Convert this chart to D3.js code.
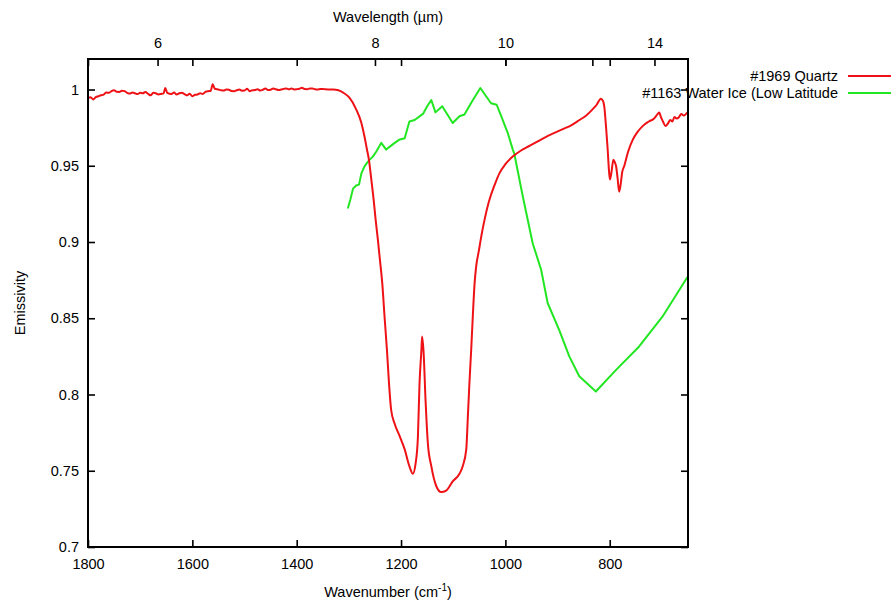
<!DOCTYPE html>
<html>
<head>
<meta charset="utf-8">
<script src="https://cdn.jsdelivr.net/npm/d3@7"></script>
<style>
    body { margin: 0; background: #fff; }
    text { font-family: "Liberation Sans", Arial, sans-serif; }
</style>
</head>
<body>
<div id="my_dataviz"></div>
<script>
//Data (wavenumber cm-1, emissivity)
var quartzWn = [1800, 1795, 1790, 1785, 1780, 1775, 1770, 1765, 1760, 1755, 1750, 1745, 1740, 1735, 1730, 1725, 1720, 1715, 1710, 1705,
    1700, 1695, 1690, 1685, 1680, 1675, 1670, 1665, 1660, 1655, 1652, 1648, 1640, 1635, 1630, 1625, 1620, 1615, 1610, 1605,
    1600, 1595, 1590, 1585, 1580, 1575, 1570, 1565, 1561, 1557, 1550, 1545, 1540, 1535, 1530, 1525, 1520, 1515, 1510, 1505,
    1500, 1495, 1490, 1485, 1480, 1475, 1470, 1465, 1460, 1455, 1450, 1445, 1440, 1435, 1430, 1425, 1420, 1415, 1410, 1405,
    1400, 1395, 1390, 1385, 1380, 1375, 1370, 1365, 1360, 1355, 1350, 1345, 1340, 1330, 1320, 1311, 1299, 1286, 1276, 1270,
    1265.5, 1261.6, 1257, 1252.6, 1248.8, 1244.4, 1241, 1236, 1231.6, 1227, 1223, 1219, 1212.4, 1203, 1193, 1184, 1177.4, 1172,
    1167.7, 1164.6, 1161, 1159.6, 1157, 1153, 1148.6, 1142, 1132.6, 1123, 1113.5, 1101, 1088, 1081.8, 1075, 1072, 1069, 1065.6,
    1062.5, 1059, 1056, 1051, 1045, 1040, 1032, 1020, 1011.5, 1000, 986, 970, 954, 938, 922, 906, 890, 874, 858, 845, 833, 825,
    817, 813, 810.5, 807, 804, 801.5, 799.7, 797, 793, 790, 788, 785, 782, 779, 776, 772, 765, 756, 747, 737, 725, 715, 708,
    705, 702, 698, 693, 688, 684, 680, 676, 672, 667, 663, 658, 651];
var quartzEm = [.9945, .9950, .9935, .9950, .9956, .9962, .9967, .9980, .9978, .9990, .9995, .9985, .9984, .9992, .9989, .9978, .9973, .9980, .9975, .9970,
    .9978, .9975, .9984, .9972, .9962, .9978, .9975, .9968, .9971, .9975, 1.0010, .9978, .9971, .9980, .9967, .9975, .9978, .9970, .9962, .9972,
    .9956, .9965, .9967, .9975, .9971, .9985, .9989, .9990, 1.0035, 1.0005, 1.0, .9995, .9993, 1.0, .9998, .9990, .9989, .9995, 1.0, .9992,
    .9993, 1.0005, .9989, .9995, .9996, 1.0002, .9993, .9998, 1.0007, .9996, .9998, 1.0006, 1.0002, .9997, 1.0, 1.0004, 1.0007, 1.0001, 1.0007, 1.0,
    1.0002, 1.0005, 1.0011, 1.0003, 1.0002, 1.0006, 1.0007, 1.0002, 1.0, 1.0003, 1.0004, 1.0001, 1.0, 1.0, .9995, .9980, .9946, .9870, .9780, .9690,
    .9610, .9540, .9410, .9280, .9150, .9015, .8900, .8730, .8510, .8290, .8070, .7900, .7810, .7730, .7640, .7530, .7480, .7550,
    .7720, .8070, .8290, .8380, .8290, .7960, .7680, .7530, .7400, .7360, .7370, .7430, .7480, .7530, .7640, .7850, .8070, .8290,
    .8510, .8730, .8840, .8940, .9060, .9145, .9260, .9380, .9450, .9510, .9560, .9600, .9630, .9660, .9690, .9715, .9740, .9765, .9800, .9830, .9870, .9900,
    .9940, .9925, .9890, .9750, .9610, .9470, .9410, .9450, .9540, .9520, .9500, .9420, .9330, .9380, .9460, .9500, .9590, .9670, .9720, .9760, .9790, .9810, .9840,
    .9850, .9820, .9790, .9760, .9780, .9800, .9790, .9820, .9810, .9820, .9840, .9830, .9850];

var iceWn = [1302, 1297, 1292, 1286, 1280.6, 1276, 1270, 1265, 1260, 1254, 1248, 1243, 1238, 1228.5, 1216, 1204, 1193, 1184, 1174, 1158,
    1149, 1142, 1134, 1121, 1101, 1088, 1078.5, 1062.6, 1048, 1037, 1027.5, 1016.7, 1008, 995.6, 985.8, 983, 966.7, 947.6, 931.6, 919,
    896.6, 877.5, 858.4, 826.6, 788.3, 743.6, 699, 651];
var iceEm = [.922, .928, .935, .937, .9376, .945, .9496, .952, .954, .956, .959, .962, .965, .9606, .964, .967, .968, .979, .980, .984,
    .9895, .993, .985, .989, .978, .9825, .9836, .993, 1.001, .9956, .991, .990, .9825, .9716, .9606, .958, .930, .899, .882, .860,
    .842, .825, .812, .802, .816, .8315, .851, .877];

var seriesNames = ["#1969 Quartz", "#1163 Water Ice (Low Latitude"];
var seriesColors = ["#ee1216", "#22e622"];

var xTicks = [1800, 1600, 1400, 1200, 1000, 800];
var yTicks = [0.7, 0.75, 0.8, 0.85, 0.9, 0.95, 1];
var topTicks = [6, 8, 10, 12, 14];
var topLabels = ["6", "8", "10", "", "14"];

//Global Variable
var margin = { top: 59, right: 203, bottom: 56, left: 88 },
    width = 891 - margin.left - margin.right,
    height = 603 - margin.top - margin.bottom;

var svg = d3.select("#my_dataviz")
    .append("svg")
    .attr("width", 891)
    .attr("height", 603)
    .append("g")
    .attr("transform", "translate(" + margin.left + "," + margin.top + ")");

//Scales
var x = d3.scaleLinear().domain([1800, 650]).range([0, width]);
var y = d3.scaleLinear().domain([0.7, 1.02]).range([height, 0]);

svg.append("clipPath").attr("id", "plotclip")
    .append("rect").attr("width", width).attr("height", height);

//Curves
function toPoints(wn, em) {
    return wn.map(function (d, i) { return { wn: d, em: em[i] }; });
}
var line = d3.line()
    .x(function (d) { return x(d.wn) })
    .y(function (d) { return y(d.em) });

svg.append("path")
    .datum(toPoints(iceWn, iceEm))
    .attr("clip-path", "url(#plotclip)")
    .attr("fill", "none")
    .attr("stroke", seriesColors[1])
    .attr("stroke-width", 2)
    .attr("stroke-linejoin", "round")
    .attr("d", line);

svg.append("path")
    .datum(toPoints(quartzWn, quartzEm))
    .attr("clip-path", "url(#plotclip)")
    .attr("fill", "none")
    .attr("stroke", seriesColors[0])
    .attr("stroke-width", 2)
    .attr("stroke-linejoin", "round")
    .attr("d", line.curve(d3.curveMonotoneX));

//Set Axes (ticks point inward, mirrored)
function styleAxis(g) {
    g.select(".domain").remove();
    g.selectAll(".tick line").attr("stroke", "#000").attr("stroke-width", 1.6);
    g.selectAll(".tick text").attr("fill", "#000").style("font-size", "14.5px")
        .style("font-family", "'Liberation Sans', Arial, sans-serif");
}

svg.append("g")
    .attr("transform", "translate(0," + height + ")")
    .call(d3.axisBottom(x).tickValues(xTicks).tickSize(-7).tickPadding(12).tickFormat(d3.format("d")))
    .call(styleAxis);

svg.append("g")
    .call(d3.axisTop(x).tickValues(xTicks).tickSize(-7).tickFormat(""))
    .call(styleAxis);

// wavelength (um) ticks placed at 10000/um on the wavenumber scale
svg.append("g")
    .call(d3.axisTop(x).tickValues(topTicks.map(function (d) { return 10000 / d; })).tickSize(-7).tickPadding(11)
        .tickFormat(function (d, i) { return topLabels[i]; }))
    .call(styleAxis);

svg.append("g")
    .call(d3.axisLeft(y).tickValues(yTicks).tickSize(-7).tickPadding(9).tickFormat(function (d) { return String(d); }))
    .call(styleAxis);

svg.append("g")
    .attr("transform", "translate(" + width + ",0)")
    .call(d3.axisRight(y).tickValues(yTicks).tickSize(-7).tickFormat(""))
    .call(styleAxis);

svg.append("rect")
    .attr("width", width)
    .attr("height", height)
    .attr("fill", "none")
    .attr("stroke", "#000")
    .attr("stroke-width", 2);

//Axis titles
svg.append("text")
    .attr("x", width / 2)
    .attr("y", -37)
    .attr("text-anchor", "middle")
    .style("font-size", "14.5px")
    .text("Wavelength (\u00b5m)");

var xt = svg.append("text")
    .attr("x", width / 2)
    .attr("y", height + 50)
    .attr("text-anchor", "middle")
    .style("font-size", "14.5px")
    .text("Wavenumber (cm");
xt.append("tspan").attr("dy", -6).style("font-size", "10px").text("-1");
xt.append("tspan").attr("dy", 6).text(")");

svg.append("text")
    .attr("transform", "translate(" + (-63) + "," + (height / 2) + ") rotate(-90)")
    .attr("text-anchor", "middle")
    .style("font-size", "14.5px")
    .text("Emissivity");

//Legend
var leg = svg.append("g").attr("transform", "translate(" + (width + 150) + ",0)");
leg.selectAll(".legText")
    .data(seriesNames)
    .enter()
    .append("text")
    .attr("class", "legText")
    .attr("x", 0)
    .attr("y", function (d, i) { return 22 + i * 17 })
    .attr("text-anchor", "end")
    .style("font-size", "14.5px")
    .text(function (d) { return d });
leg.selectAll(".legLine")
    .data(seriesColors)
    .enter()
    .append("line")
    .attr("class", "legLine")
    .attr("x1", 10)
    .attr("x2", 60)
    .attr("y1", function (d, i) { return 17 + i * 17 })
    .attr("y2", function (d, i) { return 17 + i * 17 })
    .attr("stroke", function (d) { return d })
    .attr("stroke-width", 2);
</script>
</body>
</html>
